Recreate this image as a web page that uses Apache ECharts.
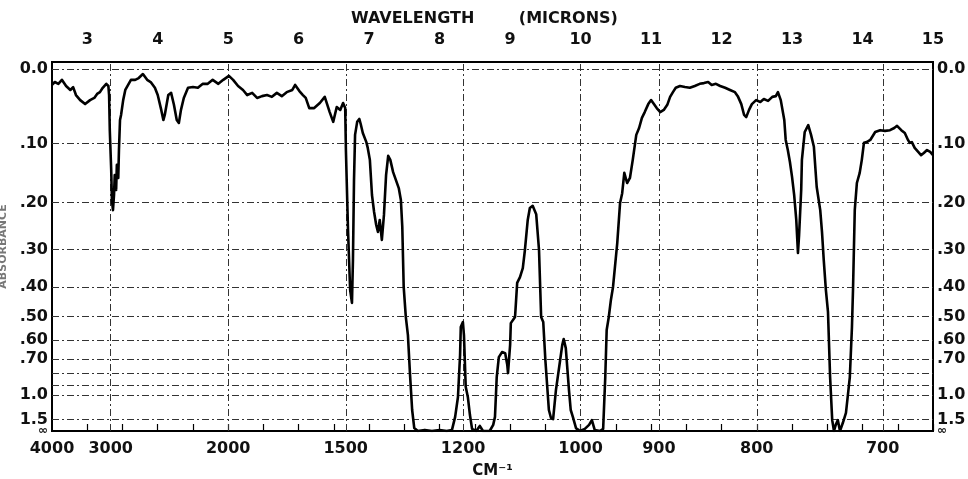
<!DOCTYPE html>
<html>
<head>
<meta charset="utf-8">
<script src="https://cdn.jsdelivr.net/npm/echarts@6/dist/echarts.min.js"></script>
<style>
html,body{margin:0;padding:0;background:#fff;}
#chart{width:968px;height:479px;}
</style>
</head>
<body>
<div id="chart"></div>
<script>
// ---- data ----
const wavenumberTicks = [4000, 3000, 2000, 1500, 1200, 1000, 900, 800, 700];
const micronTicks = [3, 4, 5, 6, 7, 8, 9, 10, 11, 12, 13, 14, 15];
const micronHalfTicks = [3.5, 4.5, 5.5, 6.5, 7.5, 8.5, 9.5, 10.5, 11.5, 12.5, 13.5, 14.5];
// label order chosen so neighbouring bottom labels (1.5 / ∞) are not the first/last pair
const absorbanceTicks = [0, 0.1, 0.2, 0.3, 0.4, 0.5, 0.6, 0.7, 1.5, Infinity, 1.0];
const leftLabels  = ['0.0', '.10', '.20', '.30', '.40', '.50', '.60', '.70', '1.5', '∞', '1.0'];
const rightLabels = ['0.0', '.10', '.20', '.30', '.40', '.50', '.60', '.70', '1.5', '∞', '1.0'];
const absorbanceGrid = [0, 0.1, 0.2, 0.3, 0.4, 0.5, 0.6, 0.7, 0.8, 0.9, 1.0, 1.5];
const wavenumberGrid = [3000, 2000, 1500, 1200, 1000, 900, 800, 700];

// wavelength (microns)
const wavelength = [
 2.50,2.54,2.59,2.64,2.70,2.76,2.80,2.84,2.90,2.97,3.04,3.10,3.14,3.18,3.22,3.27,3.30,3.31,3.32,3.34,
 3.35,3.365,3.38,3.39,3.41,3.42,3.44,3.45,3.465,3.48,3.51,3.54,3.58,3.62,3.68,3.73,3.79,3.85,3.90,3.96,
 4.00,4.05,4.08,4.10,4.15,4.19,4.23,4.27,4.30,4.33,4.37,4.43,4.50,4.57,4.64,4.71,4.78,4.86,4.93,5.01,
 5.07,5.14,5.21,5.27,5.34,5.41,5.48,5.55,5.62,5.69,5.76,5.83,5.91,5.95,6.01,6.06,6.10,6.15,6.22,6.30,
 6.37,6.44,6.49,6.54,6.59,6.63,6.66,6.67,6.70,6.73,6.756,6.77,6.785,6.80,6.83,6.86,6.88,6.91,6.96,6.98,
 7.01,7.04,7.07,7.10,7.125,7.15,7.18,7.21,7.24,7.27,7.30,7.34,7.38,7.42,7.45,7.47,7.49,7.52,7.55,7.58,
 7.61,7.64,7.69,7.79,7.89,8.00,8.10,8.175,8.22,8.26,8.29,8.30,8.33,8.345,8.37,8.40,8.43,8.46,8.52,8.57,
 8.615,8.71,8.76,8.785,8.81,8.84,8.885,8.93,8.96,8.97,9.00,9.01,9.07,9.10,9.14,9.18,9.21,9.25,9.28,9.32,
 9.37,9.41,9.44,9.47,9.50,9.55,9.58,9.61,9.65,9.71,9.74,9.76,9.79,9.835,9.86,9.89,9.935,9.99,10.06,10.12,
 10.16,10.20,10.275,10.32,10.35,10.37,10.40,10.43,10.46,10.52,10.56,10.59,10.62,10.66,10.70,10.74,10.79,10.83,10.87,10.91,
 10.96,11.00,11.04,11.08,11.13,11.18,11.23,11.27,11.31,11.35,11.41,11.48,11.55,11.62,11.69,11.75,11.81,11.86,11.92,11.98,
 12.05,12.12,12.19,12.23,12.28,12.32,12.35,12.39,12.43,12.49,12.55,12.60,12.66,12.72,12.77,12.80,12.84,12.89,12.91,12.94,
 12.97,13.00,13.03,13.06,13.084,13.10,13.13,13.14,13.18,13.23,13.27,13.31,13.35,13.40,13.425,13.45,13.48,13.51,13.54,13.57,
 13.595,13.62,13.65,13.68,13.72,13.765,13.82,13.85,13.865,13.89,13.92,13.96,13.99,14.02,14.06,14.11,14.18,14.25,14.32,14.39,
 14.45,14.49,14.55,14.60,14.645,14.67,14.70,14.74,14.79,14.83,14.87,14.915,14.96,15.00
];
// transmittance (%)
const transmittance = [
 95.6,96.4,95.9,97.0,95.3,94.2,95.0,92.8,91.4,90.3,91.4,92.0,93.1,93.6,94.8,95.9,95.3,92.8,83.1,72.1,
 63.8,61.0,65.2,70.7,66.6,73.5,69.9,77.6,85.9,87.3,91.4,94.2,95.6,97.0,97.0,97.5,98.6,97.0,96.4,94.8,
 92.8,88.7,85.9,87.3,92.8,93.4,90.1,85.9,85.1,88.7,92.0,94.8,95.0,94.8,95.9,95.9,97.0,95.9,97.0,98.1,
 97.0,95.3,94.2,92.8,93.4,92.0,92.5,92.8,92.3,93.4,92.5,93.6,94.2,95.6,93.9,92.8,92.0,89.2,89.2,90.6,
 92.3,88.1,85.4,89.5,88.7,90.6,89.2,77.6,55.5,39.0,35.4,47.2,69.3,81.8,85.4,86.2,84.8,82.3,79.8,78.2,
 74.9,65.2,60.5,56.9,55.0,58.3,52.8,59.7,70.7,76.0,74.9,71.5,69.3,67.1,63.8,56.4,39.8,31.5,26.5,15.5,
 5.8,0.8,0,0.3,0,0.3,0,0.3,3.9,9.4,21.0,28.7,30.1,26.5,12.2,9.4,4.4,0.6,0,1.4,
 0,0,1.7,3.9,14.9,20.4,21.8,21.5,18.2,16.0,23.8,29.8,31.5,40.9,42.5,45.0,50.0,58.3,61.6,62.2,
 59.9,50.0,31.5,30.1,19.6,5.8,3.6,3.3,11.3,19.6,23.8,25.4,22.9,11.3,5.8,3.9,0.8,0,0.6,1.7,
 3.0,0.3,0,0.6,14.9,27.9,31.5,36.2,39.8,51.9,63.0,65.7,71.3,68.5,69.9,74.9,81.8,83.7,86.5,88.1,
 90.3,91.4,90.3,89.2,88.1,88.7,90.1,92.3,93.6,94.8,95.3,95.0,94.8,95.3,95.9,96.1,96.4,95.6,95.9,95.3,
 94.8,94.2,93.6,92.5,90.3,87.3,86.7,88.7,90.3,91.4,90.9,91.7,91.2,92.3,92.5,93.6,91.4,85.9,80.4,77.6,
 74.3,70.2,65.2,58.3,49.2,54.1,66.6,74.9,82.6,84.5,81.8,78.5,67.4,61.0,55.0,47.2,39.0,32.9,14.9,3.0,
 0,1.7,3.0,0,2.2,5.0,14.9,28.7,39.0,61.0,68.5,71.3,74.9,79.6,79.8,80.4,82.6,83.1,82.9,83.1,
 83.7,84.3,83.1,82.3,80.4,79.6,79.8,78.2,77.1,76.2,76.8,77.6,77.1,76.2
];

// ---- helpers ----
const toT = a => (a === Infinity ? 0 : 100 * Math.pow(10, -a));
const tickT = absorbanceTicks.map(toT);
const toLambda = nu => 10000 / nu;
const nearestIdx = (arr, v) => {
  let best = 0, bd = Infinity;
  arr.forEach((t, i) => { const d = Math.abs(t - v); if (d < bd) { bd = d; best = i; } });
  return best;
};
const FONT = '"DejaVu Sans"';
const labelStyle = { color: '#111', fontFamily: FONT, fontWeight: 'bold', fontSize: 16 };
const gridLine = { color: '#333', width: 1, type: [7, 3, 2, 3] };
const infRich = { s: { fontSize: 12, fontFamily: FONT, color: '#111', fontWeight: 'bold' } };
const yLabelFmt = labels => v => {
  const i = nearestIdx(tickT, v);
  return labels[i] === '∞' ? '{s|' + labels[i] + '}' : labels[i];
};

const chart = echarts.init(document.getElementById('chart'), null, { renderer: 'canvas' });
const option = {
  backgroundColor: '#fff',
  animation: false,
  grid: { left: 52, right: 35, top: 62, bottom: 48, show: true, borderColor: '#000', borderWidth: 2, backgroundColor: 'transparent', outerBoundsMode: 'none', containLabel: false },
  xAxis: [
    {
      type: 'value', position: 'bottom', min: 2.5, max: 15,
      axisLine: { show: true, lineStyle: { color: '#000', width: 2 } },
      axisTick: { show: false },
      splitLine: { show: false },
      axisLabel: Object.assign({}, labelStyle, {
        customValues: wavenumberTicks.map(toLambda), margin: 10, showMinLabel: true, showMaxLabel: true, hideOverlap: false,
        formatter: v => String(wavenumberTicks[nearestIdx(wavenumberTicks.map(toLambda), v)])
      }),
      name: 'CM⁻¹', nameLocation: 'middle', nameGap: 33,
      nameTextStyle: { color: '#111', fontFamily: FONT, fontWeight: 'bold', fontSize: 15 }
    },
    {
      type: 'value', position: 'top', min: 2.5, max: 15,
      axisLine: { show: true, lineStyle: { color: '#000', width: 2 } },
      axisTick: { show: true, customValues: micronTicks.concat(micronHalfTicks), length: 7, lineStyle: { color: '#000', width: 1.2 } },
      splitLine: { show: false },
      axisLabel: Object.assign({}, labelStyle, { customValues: micronTicks, margin: 14, hideOverlap: false, formatter: v => String(Math.round(v)) }),
      name: 'WAVELENGTH        (MICRONS)', nameLocation: 'middle', nameGap: 30,
      nameTextStyle: { color: '#111', fontFamily: FONT, fontWeight: 'bold', fontSize: 16, padding: [0, 16, 0, 0] }
    }
  ],
  yAxis: [
    {
      type: 'value', position: 'left', min: 0, max: 101.93,
      axisLine: { show: true, lineStyle: { color: '#000', width: 2 } },
      axisTick: { show: false },
      splitLine: { show: false },
      axisLabel: Object.assign({}, labelStyle, {
        customValues: tickT, margin: 4, showMinLabel: true, showMaxLabel: true, hideOverlap: false,
        formatter: yLabelFmt(leftLabels), rich: infRich
      }),
      name: 'ABSORBANCE', nameLocation: 'middle', nameGap: 40, nameRotate: 90,
      nameTextStyle: { color: '#777', fontFamily: FONT, fontSize: 11, fontWeight: 'bold' }
    },
    {
      type: 'value', position: 'right', min: 0, max: 101.93,
      axisLine: { show: true, lineStyle: { color: '#000', width: 2 } },
      axisTick: { show: false },
      splitLine: { show: false },
      axisLabel: Object.assign({}, labelStyle, {
        customValues: tickT, margin: 4, showMinLabel: true, showMaxLabel: true, hideOverlap: false,
        formatter: yLabelFmt(rightLabels), rich: infRich
      })
    }
  ],
  series: [
    {
      type: 'line', xAxisIndex: 0, yAxisIndex: 0,
      data: wavelength.map((w, i) => [w, transmittance[i]]),
      showSymbol: false, symbol: 'none',
      lineStyle: { color: '#000', width: 2.6, join: 'round' },
      z: 5,
      markLine: {
        silent: true, symbol: 'none', label: { show: false },
        lineStyle: gridLine, animation: false,
        data: [
          ...wavenumberGrid.map(n => ({ xAxis: toLambda(n) })),
          ...absorbanceGrid.map(a => ({ yAxis: toT(a) }))
        ]
      }
    }
  ]
};
chart.setOption(option);
</script>
</body>
</html>
